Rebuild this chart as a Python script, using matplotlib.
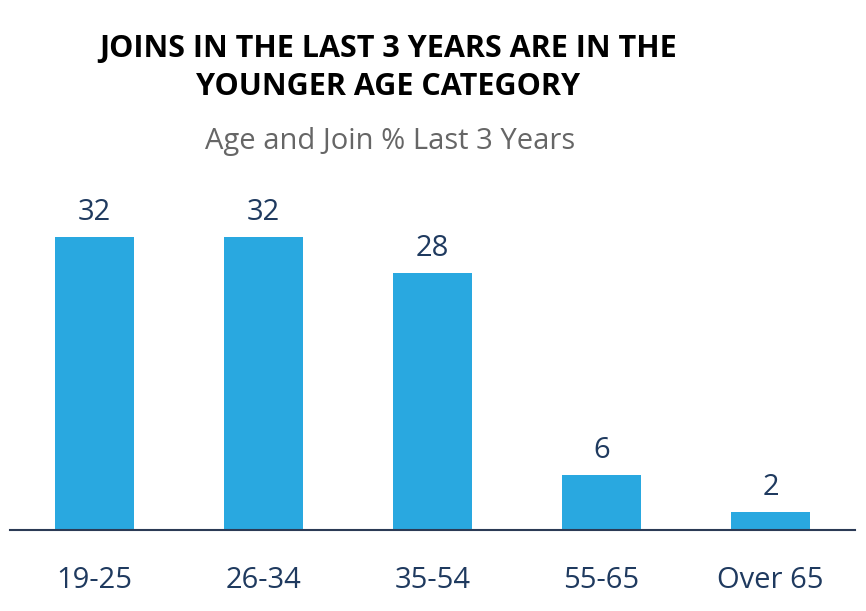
import matplotlib
matplotlib.use('Agg')
import matplotlib.pyplot as plt

# data
age_groups = ['19-25', '26-34', '35-54', '55-65', 'Over 65']
join_pct = [32, 32, 28, 6, 2]

bar_color = '#29A8E0'
navy = '#1F3A5F'

plt.rcParams['font.family'] = ['Open Sans', 'DejaVu Sans']

fig = plt.figure(figsize=(8.66, 6.11), dpi=100)
ax = fig.add_axes([10 / 866, 81 / 611, 845 / 866, 330 / 611])

x = range(len(age_groups))
bars = ax.bar(x, join_pct, width=0.47, color=bar_color)

# value labels above each bar
for b, v in zip(bars, join_pct):
    ax.text(b.get_x() + b.get_width() / 2, v + 1.1, str(v),
            ha='center', va='bottom', fontsize=21, color=navy)

ax.set_xlim(-0.5, 4.5)
ax.set_ylim(0, 36)
ax.set_xticks(list(x))
ax.set_xticklabels(age_groups, fontsize=21, color=navy)
ax.tick_params(axis='x', length=0, pad=26)
ax.set_yticks([])
for s in ['top', 'right', 'left']:
    ax.spines[s].set_visible(False)
ax.spines['bottom'].set_color('#2B3A55')
ax.spines['bottom'].set_linewidth(1.5)

fig.text(388 / 866, 1 - 68 / 611,
         'JOINS IN THE LAST 3 YEARS ARE IN THE\nYOUNGER AGE CATEGORY',
         ha='center', va='center', fontsize=22, fontweight='bold',
         color='black', linespacing=1.35)
fig.text(390 / 866, 1 - 142 / 611, 'Age and Join % Last 3 Years',
         ha='center', va='center', fontsize=21, color='#666666')

plt.savefig('out.png', dpi=100)
